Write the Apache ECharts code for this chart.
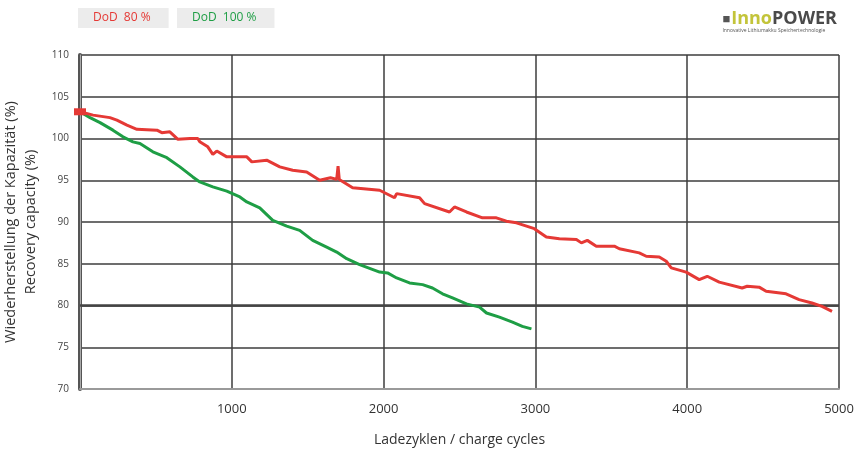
<!DOCTYPE html>
<html>
<head>
<meta charset="utf-8">
<script src="https://cdn.jsdelivr.net/npm/echarts@6/dist/echarts.min.js"></script>
<style>html,body{margin:0;padding:0;background:#fff;}#c{width:860px;height:450px;}</style>
</head>
<body>
<div id="c"></div>
<script>
const seriesNames = ['DoD  80 %', 'DoD  100 %'];
const xTicks = [0, 1000, 2000, 3000, 4000, 5000];
const yTicks = [70, 75, 80, 85, 90, 95, 100, 105, 110];

const redCycles = [0, 86, 197, 243, 309, 375, 507, 539, 592, 645, 724, 776, 789, 842, 875, 901, 967, 1053, 1099, 1132, 1230, 1316, 1401, 1493, 1579, 1650, 1691, 1700, 1708, 1796, 1974, 2072, 2086, 2237, 2270, 2434, 2467, 2546, 2651, 2743, 2809, 2875, 2993, 3072, 3158, 3270, 3303, 3342, 3401, 3520, 3553, 3684, 3730, 3816, 3862, 3895, 3993, 4079, 4132, 4211, 4362, 4395, 4474, 4520, 4651, 4737, 4822, 4888, 4954];
const redValues = [103.2, 102.8, 102.5, 102.2, 101.6, 101.1, 101.0, 100.7, 100.8, 99.9, 100.0, 100.0, 99.6, 99.0, 98.1, 98.5, 97.8, 97.8, 97.8, 97.2, 97.4, 96.6, 96.2, 96.0, 95.0, 95.3, 95.1, 96.7, 95.1, 94.1, 93.8, 92.9, 93.4, 92.9, 92.2, 91.2, 91.8, 91.2, 90.5, 90.5, 90.1, 89.9, 89.2, 88.2, 88.0, 87.9, 87.5, 87.8, 87.1, 87.1, 86.8, 86.3, 85.9, 85.8, 85.3, 84.5, 84.0, 83.1, 83.5, 82.8, 82.1, 82.3, 82.2, 81.7, 81.4, 80.7, 80.3, 79.9, 79.3];

const greenCycles = [0, 66, 132, 217, 283, 349, 395, 480, 572, 658, 743, 789, 875, 967, 1053, 1099, 1184, 1270, 1362, 1447, 1533, 1625, 1691, 1757, 1842, 1974, 2026, 2086, 2171, 2257, 2322, 2388, 2454, 2546, 2632, 2678, 2763, 2849, 2914, 2974];
const greenValues = [103.2, 102.5, 101.9, 101.0, 100.2, 99.6, 99.4, 98.4, 97.7, 96.6, 95.4, 94.8, 94.2, 93.7, 93.0, 92.4, 91.7, 90.2, 89.5, 89.0, 87.8, 87.0, 86.4, 85.6, 84.9, 84.0, 83.9, 83.3, 82.7, 82.5, 82.1, 81.4, 80.9, 80.2, 79.8, 79.1, 78.6, 78.0, 77.5, 77.2];

function pairs(xs, ys) { return xs.map((x, i) => [x, ys[i]]); }

const redData = pairs(redCycles, redValues);
redData[0] = { value: redData[0], symbol: 'rect', symbolSize: [12, 7] };

const chart = echarts.init(document.getElementById('c'));
chart.setOption({
  backgroundColor: '#ffffff',
  animation: false,
  textStyle: { fontFamily: 'Open Sans' },
  title: {
    right: 18, top: 5,
    text: '{ic|■}{a|Inno}{b|POWER}',
    subtext: 'Innovative Lithiumakku Speichertechnologie',
    itemGap: 0,
    textStyle: {
      rich: {
        ic: { fontSize: 13, color: '#555', padding: [0, 1, 0, 0] },
        a: { fontSize: 18, color: '#c3c43a', fontFamily: 'Open Sans' },
        b: { fontSize: 18, color: '#4a4a4a', fontFamily: 'Open Sans' }
      }
    },
    subtextStyle: { fontSize: 5, color: '#555' }
  },
  legend: [
    {
      data: [{ name: seriesNames[0], textStyle: { color: '#e53935' } }],
      left: 78, top: 8, icon: 'none', itemWidth: 0, itemHeight: 12,
      backgroundColor: '#ececec', padding: [4, 18, 4, 10], borderRadius: 0,
      textStyle: { fontSize: 12 }, selectedMode: false
    },
    {
      data: [{ name: seriesNames[1], textStyle: { color: '#1e9e45' } }],
      left: 177, top: 8, icon: 'none', itemWidth: 0, itemHeight: 12,
      backgroundColor: '#ececec', padding: [4, 18, 4, 10], borderRadius: 0,
      textStyle: { fontSize: 12 }, selectedMode: false
    }
  ],
  grid: { left: 80, right: 21, top: 55, bottom: 61, containLabel: false, outerBoundsMode: 'none' },
  xAxis: {
    type: 'value', min: xTicks[0], max: xTicks[xTicks.length - 1], interval: 1000,
    name: 'Ladezyklen / charge cycles', nameLocation: 'middle', nameGap: 44,
    nameTextStyle: { fontSize: 14, color: '#333' },
    axisLine: { show: true, lineStyle: { color: '#9a9a9a', width: 2 } },
    axisTick: { show: false },
    axisLabel: { fontSize: 13, color: '#333', margin: 14, showMinLabel: false, formatter: v => String(v) },
    splitLine: { show: true, showMinLine: false, lineStyle: { color: '#3c3c3c', width: 1.5 } }
  },
  yAxis: [
    {
      type: 'value', min: yTicks[0], max: yTicks[yTicks.length - 1], interval: 5,
      name: 'Wiederherstellung der Kapazität (%)\nRecovery capacity (%)',
      nameLocation: 'middle', nameRotate: 90, nameGap: 23,
      nameTextStyle: { fontSize: 14.5, color: '#333', lineHeight: 20 },
      offset: 5,
      axisLine: { show: true, lineStyle: { color: '#555', width: 4 } },
      axisTick: { show: false },
      axisLabel: { fontSize: 10, color: '#444', margin: 6, formatter: v => String(v) },
      splitLine: { show: true, lineStyle: { color: '#3c3c3c', width: 1.5 } }
    },
    {
      type: 'value', min: yTicks[0], max: yTicks[yTicks.length - 1], interval: 5,
      position: 'left', offset: 0,
      axisLine: { show: true, lineStyle: { color: '#aaaaaa', width: 1 } },
      axisTick: { show: false }, axisLabel: { show: false }, splitLine: { show: false }
    }
  ],
  series: [
    {
      name: seriesNames[1], type: 'line', data: pairs(greenCycles, greenValues),
      showSymbol: false, symbol: 'none',
      lineStyle: { color: '#1e9e45', width: 3 }, itemStyle: { color: '#1e9e45' },
      z: 3
    },
    {
      name: seriesNames[0], type: 'line', data: redData,
      showSymbol: true, symbol: 'none',
      lineStyle: { color: '#e53935', width: 3 }, itemStyle: { color: '#e53935' },
      z: 4,
      markLine: {
        silent: true, symbol: 'none', label: { show: false },
        lineStyle: { color: '#444', width: 2.5, type: 'solid' },
        data: [{ yAxis: 80 }], z: 1
      }
    }
  ]
});
</script>
</body>
</html>
